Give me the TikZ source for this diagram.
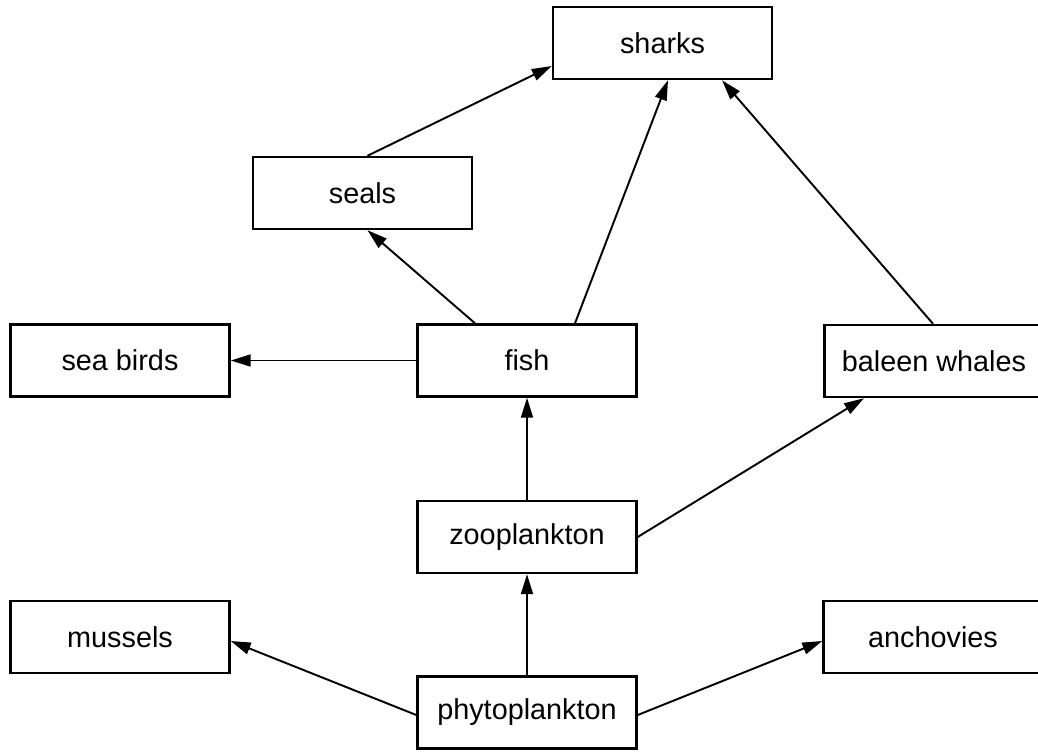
\documentclass[tikz,border=0pt]{standalone}
\usepackage{fontspec}
\setmainfont{Liberation Sans}
\usepackage{tikz}
\usetikzlibrary{positioning}
\usetikzlibrary{calc}
\usetikzlibrary{arrows.meta}

\tikzset{
	box/.style={draw, line width=1.4pt, minimum width=4.38cm, minimum height=1.44cm, inner sep=0pt, font=\fontsize{16.4}{19}\selectfont},
	eats/.style={-{Triangle[length=0.4cm,width=0.24cm]}, line width=1.1pt}
}

\begin{document}
\begin{tikzpicture}[x=0.02cm, y=-0.02cm]

	\useasboundingbox (0,0) rectangle (1038,751);
	\clip (0,0) rectangle (1038,751);

	\node [box] (sharks) at (662.5,43) {sharks};
	\node [box] (seals) at (362.5,193) {seals};
	\node [box] (birds) at (120,360.5) {sea birds};
	\node [box] (fish) at (527,360.5) {fish};
	\node [box] (whales) at (934,361) {baleen whales};
	\node [box] (zoo) at (527,537) {zooplankton};
	\node [box] (mussels) at (120,637) {mussels};
	\node [box] (anchovies) at (933,637) {anchovies};
	\node [box] (phyto) at (527,712.5) {phytoplankton};

	\draw [eats] ($(seals.north)+(5,0)$) -- ($(sharks.west)+(0,23)$);
	\draw [eats] ($(fish.north)+(-52,0)$) -- ($(seals.south)+(5,0)$);
	\draw [eats] ($(fish.north)+(48,0)$) -- ($(sharks.south)+(5.5,0)$);
	\draw [eats] ($(whales.north)+(-1,0)$) -- ($(sharks.south)+(59.5,0)$);
	\draw [eats] (fish.west) -- (birds.east);
	\draw [eats] (zoo.north) -- (fish.south);
	\draw [eats] (zoo.east) -- ($(whales.south)+(-70,0)$);
	\draw [eats] (phyto.north) -- (zoo.south);
	\draw [eats] ($(phyto.west)+(0,2.5)$) -- ($(mussels.east)+(0,4)$);
	\draw [eats] ($(phyto.east)+(0,2.5)$) -- ($(anchovies.west)+(0,4)$);
\end{tikzpicture}
\end{document}
